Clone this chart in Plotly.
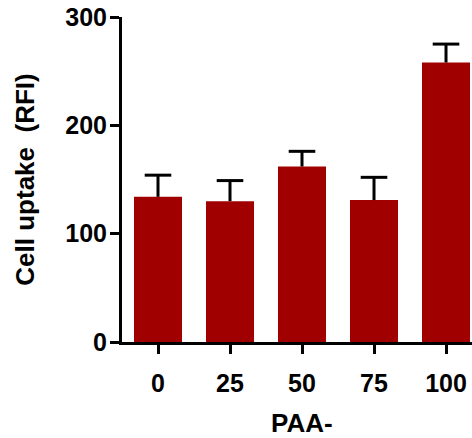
import numpy as np
import plotly.graph_objects as go

categories = ["0", "25", "50", "75", "100"]
uptake = [134, 130, 162, 131, 258]
err_up = [20, 19, 14, 21, 17]
y_ticks = [0, 100, 200, 300]

FONT = "Liberation Sans, Arial, sans-serif"
BAR_COLOR = "#A00000"

x_idx = list(range(len(categories)))
cap_y = list(np.array(uptake) + np.array(err_up))

fig = go.Figure()
fig.add_trace(go.Bar(
    x=x_idx, y=uptake,
    marker=dict(color=BAR_COLOR, line=dict(width=0)),
    width=0.667,
    error_y=dict(type="data", symmetric=False, array=err_up,
                 arrayminus=[0] * len(uptake), color="black",
                 thickness=3, width=0),
    showlegend=False,
))
fig.add_trace(go.Scatter(
    x=x_idx, y=cap_y, mode="markers",
    marker=dict(symbol="line-ew", size=19, color="black",
                line=dict(width=3, color="black")),
    showlegend=False, hoverinfo="skip",
))

fig.update_layout(
    width=472, height=438,
    margin=dict(l=122, r=0, t=17, b=96),
    plot_bgcolor="white", paper_bgcolor="white",
    font=dict(family=FONT, size=25, color="black", weight="bold"),
    annotations=[dict(
        text="PAA-", x=2, xref="x", y=-0.248, yref="paper",
        xanchor="center", yanchor="middle", showarrow=False,
        font=dict(family=FONT, size=26, color="black", weight="bold"),
    )],
)
fig.update_xaxes(
    range=[-0.5, 4.361],
    tickvals=x_idx, ticktext=categories,
    showline=True, linecolor="black", linewidth=3,
    ticks="outside", ticklen=9, tickwidth=3, tickcolor="black",
    showgrid=False, zeroline=False, automargin=False,
    tickfont=dict(family=FONT, size=25, weight="bold"),
    ticklabelstandoff=8, ticklabeloverflow="allow",
)
fig.update_yaxes(
    range=[0, 300],
    tickvals=y_ticks,
    showline=True, linecolor="black", linewidth=3,
    ticks="outside", ticklen=9, tickwidth=3, tickcolor="black",
    showgrid=False, zeroline=False, automargin=False,
    tickfont=dict(family=FONT, size=25, weight="bold"),
    ticklabelstandoff=-2, ticklabeloverflow="allow",
    title=dict(text="Cell uptake\u00a0\u00a0(RFI)",
               font=dict(family=FONT, size=26, weight="bold"), standoff=24),
)

fig.write_html(
    "out.html",
    config={"displayModeBar": False},
    post_script="document.body.style.margin='0';document.body.style.overflow='hidden';",
)
